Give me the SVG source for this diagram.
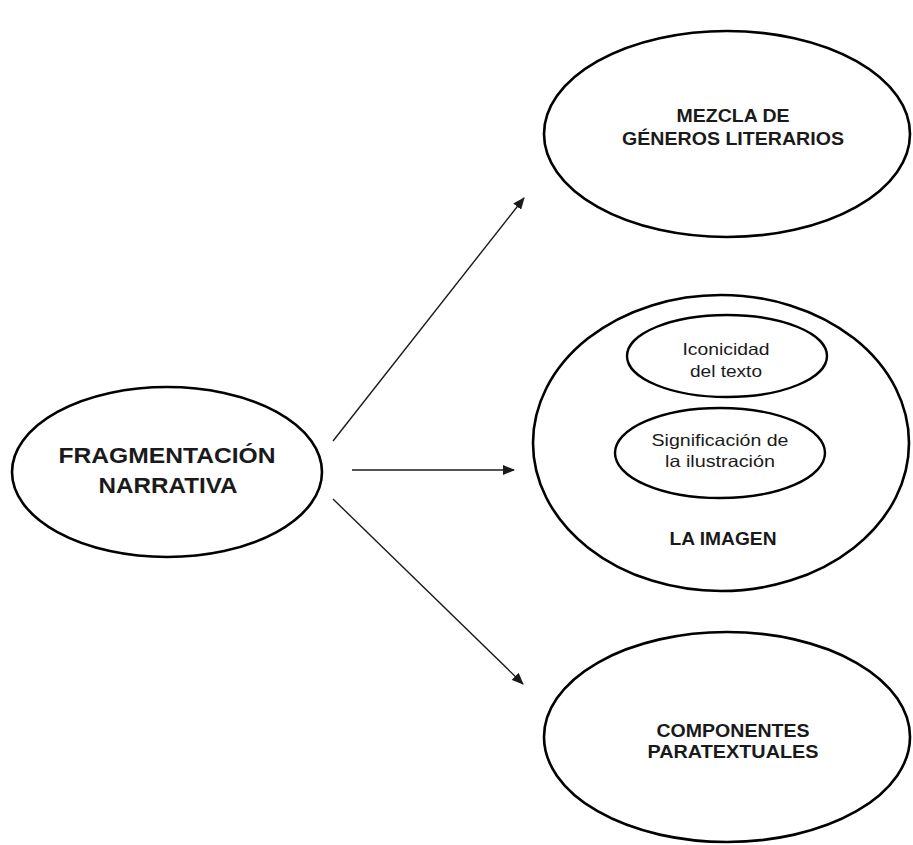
<svg xmlns="http://www.w3.org/2000/svg" width="913" height="845" viewBox="0 0 913 845">
<defs>
<style>
.node{fill:#fff;stroke:#000;stroke-width:2.6}
.inner{fill:#fff;stroke:#000;stroke-width:2.4}
.b{font-family:"Liberation Sans",Arial,sans-serif;font-weight:bold;fill:#1a1a1a;text-anchor:middle}
.r{font-family:"Liberation Sans",Arial,sans-serif;fill:#1a1a1a;text-anchor:middle;font-size:16.5px}
.conn{stroke:#1a1a1a;stroke-width:1.4;fill:none}
</style>
<marker id="ah" markerUnits="userSpaceOnUse" markerWidth="12" markerHeight="10" refX="11" refY="5" orient="auto">
<path d="M0,0 L12,5 L0,10 Z" fill="#1a1a1a"/>
</marker>
</defs>
<rect width="913" height="845" fill="#fff"/>
<g id="connectors">
<line class="conn" x1="333" y1="441" x2="524" y2="198" marker-end="url(#ah)"/>
<line class="conn" x1="352" y1="470" x2="514" y2="470" stroke-width="2" marker-end="url(#ah)"/>
<line class="conn" x1="333" y1="499" x2="523" y2="684" marker-end="url(#ah)"/>
</g>
<g id="fragmentacion">
<ellipse class="node" cx="167" cy="472" rx="155" ry="85"/>
<text class="b" font-size="22" x="167" y="463" textLength="217" lengthAdjust="spacingAndGlyphs">FRAGMENTACIÓN</text>
<text class="b" font-size="22" x="168" y="493" textLength="139" lengthAdjust="spacingAndGlyphs">NARRATIVA</text>
</g>
<g id="mezcla">
<ellipse class="node" cx="727" cy="134" rx="183" ry="103"/>
<text class="b" font-size="18" x="733" y="122" textLength="113" lengthAdjust="spacingAndGlyphs">MEZCLA DE</text>
<text class="b" font-size="18" x="733" y="145" textLength="222" lengthAdjust="spacingAndGlyphs">GÉNEROS LITERARIOS</text>
</g>
<g id="imagen">
<ellipse class="node" cx="721" cy="443" rx="188" ry="148"/>
<text class="b" font-size="18" x="723" y="545" textLength="107" lengthAdjust="spacingAndGlyphs">LA IMAGEN</text>
</g>
<g id="iconicidad">
<ellipse class="inner" cx="727" cy="356" rx="100" ry="41"/>
<text class="r" x="726" y="355" textLength="87" lengthAdjust="spacingAndGlyphs">Iconicidad</text>
<text class="r" x="726" y="377" textLength="72" lengthAdjust="spacingAndGlyphs">del texto</text>
</g>
<g id="significacion">
<ellipse class="inner" cx="720" cy="453" rx="105" ry="45"/>
<text class="r" x="720" y="446" textLength="137" lengthAdjust="spacingAndGlyphs">Significación de</text>
<text class="r" x="720" y="467" textLength="110" lengthAdjust="spacingAndGlyphs">la ilustración</text>
</g>
<g id="componentes">
<ellipse class="node" cx="727" cy="737" rx="183" ry="105"/>
<text class="b" font-size="18" x="733" y="737" textLength="153" lengthAdjust="spacingAndGlyphs">COMPONENTES</text>
<text class="b" font-size="18" x="733" y="758" textLength="171" lengthAdjust="spacingAndGlyphs">PARATEXTUALES</text>
</g>
</svg>
